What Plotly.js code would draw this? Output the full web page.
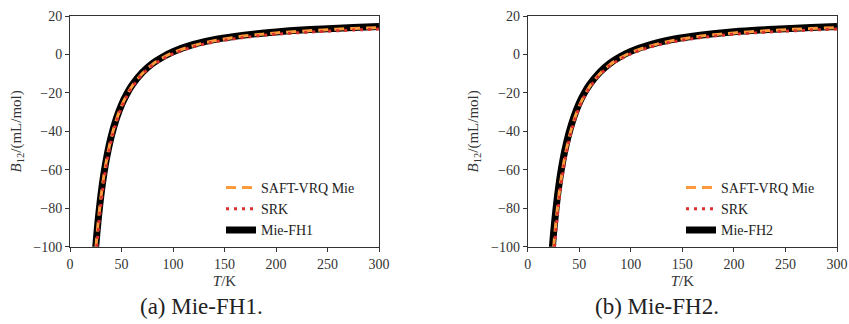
<!DOCTYPE html>
<html>
<head>
<meta charset="utf-8">
<script src="https://cdn.plot.ly/plotly-3.0.1.min.js"></script>
<style>html,body{margin:0;padding:0;background:#fff;}#chart{width:849px;height:324px;}</style>
</head>
<body>
<div id="chart"></div>
<script>
// Temperatures (K)
const T = [23, 24, 25, 27, 30, 33, 36, 40, 45, 50, 55, 60, 70, 80, 90, 100, 120, 140, 160, 180, 200, 225, 250, 275, 300];
// B12 (mL/mol)
const saftVrqMie = [-117, -109, -101.5, -89.3, -74.5, -62.7, -53.4, -43.5, -34.1, -26.8, -21.3, -16.7, -10.0, -5.2, -1.8, 0.9, 4.6, 7.1, 8.9, 10.2, 11.2, 12.1, 12.9, 13.5, 14.0];
const srk = [-125, -115, -107, -94, -78, -65.5, -55.5, -45, -35.2, -27.6, -21.9, -17.3, -10.5, -5.7, -2.4, 0.3, 4.0, 6.5, 8.2, 9.5, 10.5, 11.4, 12.1, 12.7, 13.2];
const mieFH1 = [-115, -107, -100, -88.0, -73.3, -61.7, -52.5, -42.7, -33.4, -26.2, -20.7, -16.2, -9.5, -4.7, -1.3, 1.4, 5.2, 7.7, 9.4, 10.7, 11.7, 12.7, 13.4, 14.0, 14.5];
const mieFH2 = [-107, -100, -93.5, -82.5, -69.0, -58.5, -50.0, -41.0, -32.2, -25.3, -20.0, -15.7, -9.2, -4.5, -1.1, 1.6, 5.3, 7.8, 9.5, 10.8, 11.8, 12.7, 13.4, 14.0, 14.5];

const xTicks = [0, 50, 100, 150, 200, 250, 300];
const yTicks = [-100, -80, -60, -40, -20, 0, 20];
const yTickText = ["\u2212100", "\u221280", "\u221260", "\u221240", "\u221220", "0", "20"];
const captions = ["(a) Mie-FH1.", "(b) Mie-FH2."];

const FONT = "Liberation Serif, Times New Roman, serif";
const ORANGE = "#fe9a3c";
const RED = "#dc2f2f";

function panel(xa, ya, fhName, fhData, leg) {
  return [
    {x: T, y: fhData, xaxis: xa, yaxis: ya, mode: "lines", name: fhName, legend: leg, legendrank: 3,
     line: {color: "#000", width: 7, shape: "spline"}},
    {x: T, y: saftVrqMie, xaxis: xa, yaxis: ya, mode: "lines", name: "SAFT-VRQ Mie", legend: leg, legendrank: 1,
     line: {color: ORANGE, width: 3, dash: "10px,6px", shape: "spline"}},
    {x: T, y: srk, xaxis: xa, yaxis: ya, mode: "lines", name: "SRK", legend: leg, legendrank: 2,
     line: {color: RED, width: 3, dash: "3px,5px", shape: "spline"}}
  ];
}

const data = [].concat(
  panel("x", "y", "Mie-FH1", mieFH1, "legend"),
  panel("x2", "y2", "Mie-FH2", mieFH2, "legend2")
);

function xaxis(domain, anchor) {
  return {domain: domain, anchor: anchor, range: [0, 300], tickvals: xTicks, ticks: "outside", ticklen: 4,
    tickcolor: "#333", showline: true, linecolor: "#333", linewidth: 1, mirror: true, showgrid: false, zeroline: false,
    tickfont: {family: FONT, size: 14, color: "#333"},
    title: {text: "<i>T</i>/K", font: {family: FONT, size: 15, color: "#333"}, standoff: 4}};
}
function yaxis(domain, anchor) {
  return {domain: domain, anchor: anchor, range: [-100, 20], tickvals: yTicks, ticktext: yTickText, ticks: "outside", ticklen: 4,
    tickcolor: "#333", showline: true, linecolor: "#333", linewidth: 1, mirror: true, showgrid: false, zeroline: false,
    tickfont: {family: FONT, size: 14, color: "#333"},
    title: {text: "<i>B</i><sub>12</sub>/(mL/mol)", font: {family: FONT, size: 15, color: "#333"}, standoff: 8}};
}

const legendCommon = {bgcolor: "rgba(0,0,0,0)", borderwidth: 0, font: {family: FONT, size: 14, color: "#222"},
  yanchor: "top", xanchor: "left", tracegroupgap: 0};

const layout = {
  width: 849, height: 324,
  margin: {l: 0, r: 0, t: 0, b: 0},
  paper_bgcolor: "#fff", plot_bgcolor: "#fff",
  showlegend: true,
  xaxis: xaxis([70/849, 379/849], "y"),
  yaxis: yaxis([1 - 246.7/324, 1 - 16/324], "x"),
  xaxis2: xaxis([527.7/849, 837/849], "y2"),
  yaxis2: yaxis([1 - 246.7/324, 1 - 16/324], "x2"),
  legend: Object.assign({}, legendCommon, {x: 221/849, y: 1 - 172/324}),
  legend2: Object.assign({}, legendCommon, {x: 681/849, y: 1 - 172/324}),
  annotations: [
    {text: captions[0], xref: "paper", yref: "paper", x: 201/849, y: 1 - 306/324, xanchor: "center", yanchor: "middle",
     showarrow: false, font: {family: FONT, size: 23, color: "#222"}},
    {text: captions[1], xref: "paper", yref: "paper", x: 657/849, y: 1 - 306/324, xanchor: "center", yanchor: "middle",
     showarrow: false, font: {family: FONT, size: 23, color: "#222"}}
  ]
};

Plotly.newPlot("chart", data, layout, {staticPlot: true, displayModeBar: false});
</script>
</body>
</html>
